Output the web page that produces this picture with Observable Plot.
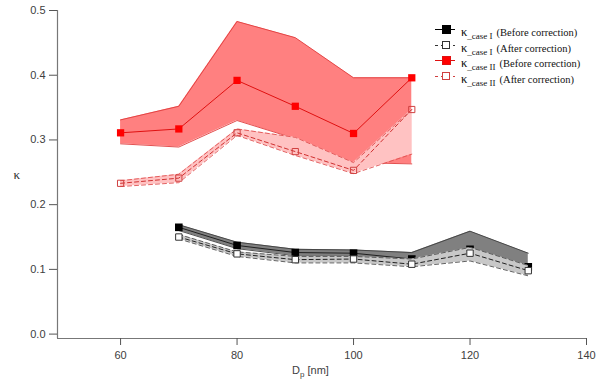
<!DOCTYPE html>
<html>
<head>
<meta charset="utf-8">
<script src="https://cdn.jsdelivr.net/npm/d3@7"></script>
<script src="https://cdn.jsdelivr.net/npm/@observablehq/plot@0.6"></script>
<style>
  body { margin: 0; background: #fff; }
  #wrap { position: relative; width: 600px; height: 383px; }
  #wrap svg { position: absolute; left: 0; top: 0; }
  .xlab { position: absolute; left: 292px; top: 364px; font: 11px "Liberation Sans", Arial, sans-serif; color: #404040; }
  .xlab sub { font-size: 8px; }
  .legend { position: absolute; left: 433px; top: 22px; font-family: "Liberation Serif", "Times New Roman", serif; color: #111; }
  .row { position: relative; height: 15.7px; white-space: nowrap; }
  .row svg { position: absolute; left: 0; top: 1px; }
  .row .t { position: absolute; left: 28px; top: 0; }
  .k { font-size: 12.5px; }
  .s { font-size: 9px; position: relative; top: 3px; }
  .p { font-size: 10.5px; }
</style>
</head>
<body>
<div id="wrap"></div>
<script>
// Case I (70–130 nm)
const dpI = [70, 80, 90, 100, 110, 120, 130];
const caseI_before       = [0.165, 0.137, 0.126, 0.125, 0.116, 0.131, 0.104];
const caseI_before_upper = [0.169, 0.142, 0.131, 0.130, 0.126, 0.159, 0.125];
const caseI_before_lower = [0.160, 0.132, 0.121, 0.121, 0.112, 0.124, 0.101];
const caseI_after        = [0.150, 0.124, 0.115, 0.116, 0.108, 0.125, 0.098];
const caseI_after_upper  = [0.154, 0.127, 0.120, 0.120, 0.116, 0.134, 0.106];
const caseI_after_lower  = [0.147, 0.120, 0.110, 0.110, 0.104, 0.113, 0.090];

// Case II (60–110 nm)
const dpII = [60, 70, 80, 90, 100, 110];
const caseII_before       = [0.311, 0.317, 0.392, 0.352, 0.310, 0.396];
const caseII_before_upper = [0.331, 0.352, 0.483, 0.458, 0.396, 0.396];
const caseII_before_lower = [0.294, 0.289, 0.330, 0.302, 0.265, 0.263];
const caseII_after        = [0.233, 0.241, 0.311, 0.282, 0.253, 0.347];
const caseII_after_upper  = [0.237, 0.247, 0.317, 0.304, 0.265, 0.347];
const caseII_after_lower  = [0.228, 0.234, 0.307, 0.276, 0.248, 0.278];

const xTicks = [60, 80, 100, 120, 140];
const yTicks = [0.0, 0.1, 0.2, 0.3, 0.4, 0.5];

const rows = (xs, c, u, l) => xs.map((x, i) => ({x, c: c[i], u: u[i], l: l[i]}));
const I_b = rows(dpI, caseI_before, caseI_before_upper, caseI_before_lower);
const I_a = rows(dpI, caseI_after, caseI_after_upper, caseI_after_lower);
const II_b = rows(dpII, caseII_before, caseII_before_upper, caseII_before_lower);
const II_a = rows(dpII, caseII_after, caseII_after_upper, caseII_after_lower);

const xMin = 49.17, xMax = 140, yMin = -0.0068, yMax = 0.5;
const dash = "4,3";

function band(data, fill, edge, center, dashed, sym) {
  const da = dashed ? dash : null;
  return [
    Plot.areaY(data, {x: "x", y1: "l", y2: "u", fill, curve: "linear"}),
    Plot.line(data, {x: "x", y: "u", stroke: edge, strokeWidth: 0.9, strokeDasharray: da}),
    Plot.line(data, {x: "x", y: "l", stroke: edge, strokeWidth: 0.9, strokeDasharray: da}),
    Plot.line(data, {x: "x", y: "c", stroke: center, strokeWidth: 1, strokeDasharray: da}),
    Plot.dot(data, {x: "x", y: "c", symbol: "square", ...sym})
  ];
}

const chart = Plot.plot({
  width: 600, height: 383,
  marginLeft: 57, marginRight: 14, marginTop: 10, marginBottom: 45,
  x: {domain: [xMin, xMax]},
  y: {domain: [yMin, yMax]},
  style: {fontFamily: '"Liberation Sans", Arial, sans-serif', fontSize: "11px", color: "#404040", background: "transparent"},
  marks: [
    ...band(II_b, "#ff8080", "#e03c3c", "#e01010", false, {fill: "#ff0000", r: 4.1}),
    ...band(II_a, "#ffc2c2", "#e05050", "#d03030", true, {fill: "none", stroke: "#d04040", strokeWidth: 1, r: 3.5}),
    ...band(I_b, "#808080", "#404040", "#202020", false, {fill: "#000", r: 4.3}),
    ...band(I_a, "#c8c8c8", "#505050", "#202020", true, {fill: "#fff", stroke: "#333", strokeWidth: 1, r: 3.6}),
    Plot.ruleX([xMin], {y1: yMin, y2: yMax, stroke: "#777", strokeWidth: 1.2}),
    Plot.ruleY([yMin], {x1: xMin, x2: xMax, stroke: "#777", strokeWidth: 1.2}),
    Plot.axisX({ticks: xTicks, tickSize: 7, tickPadding: 6, label: null, stroke: "#555"}),
    Plot.axisY({ticks: yTicks, tickSize: 8, tickPadding: 4, tickFormat: d3.format(".1f"), label: null, stroke: "#555"}),
    Plot.text(["κ"], {frameAnchor: "left", dx: -44, dy: 0, fontSize: 13, fill: "#333", fontFamily: '"Liberation Serif", serif'})
  ]
});
document.getElementById("wrap").appendChild(chart);

// Legend + x label (HTML)
const legendItems = [
  {sub: "_case I", txt: "(Before correction)", color: "#000", fill: "#000", dashed: false},
  {sub: "_case I", txt: "(After correction)", color: "#333", fill: "#fff", dashed: true},
  {sub: "_case II", txt: "(Before correction)", color: "#e01010", fill: "#ff0000", dashed: false},
  {sub: "_case II", txt: "(After correction)", color: "#d04040", fill: "none", dashed: true}
];
const lg = document.createElement("div");
lg.className = "legend";
lg.innerHTML = legendItems.map(d => `
  <div class="row">
    <svg width="26" height="14">
      <line x1="2" x2="22" y1="7.5" y2="7.5" stroke="${d.color}" stroke-width="1" ${d.dashed ? 'stroke-dasharray="3,3"' : ''}/>
      <rect x="9.5" y="3.5" width="${d.fill === '#fff' || d.fill === 'none' ? 7 : 8}" height="${d.fill === '#fff' || d.fill === 'none' ? 7 : 8}" fill="${d.fill === 'none' ? '#fff' : d.fill}" stroke="${d.color}" stroke-width="1"/>
    </svg>
    <span class="t"><span class="k">κ</span><span class="s">${d.sub}</span> <span class="p">${d.txt}</span></span>
  </div>`).join("");
document.getElementById("wrap").appendChild(lg);

const xl = document.createElement("div");
xl.className = "xlab";
xl.innerHTML = "D<sub>p</sub> [nm]";
document.getElementById("wrap").appendChild(xl);
</script>
</body>
</html>
